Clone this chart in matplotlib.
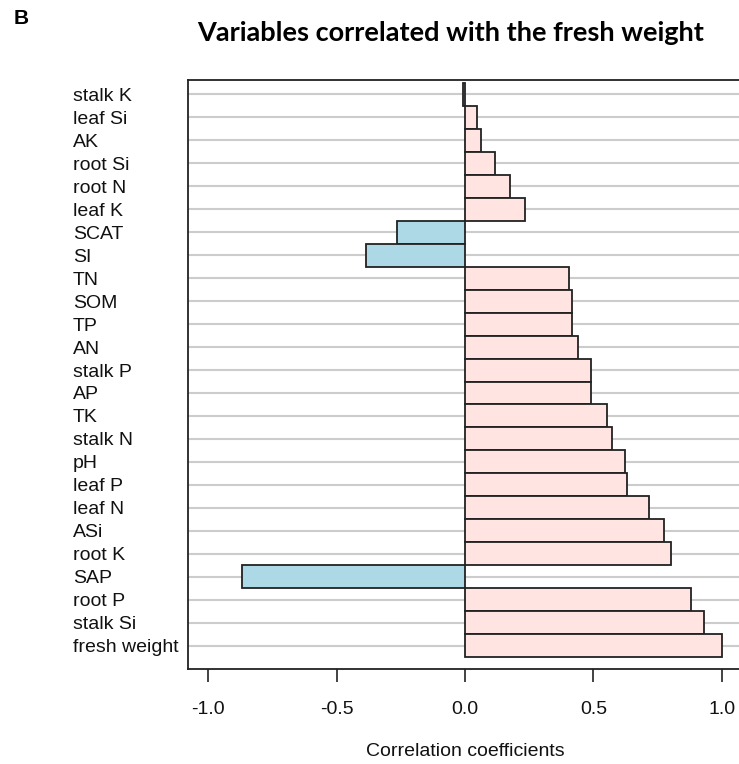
import matplotlib.pyplot as plt
import numpy as np

# variables from top to bottom, as shown in the chart
variables = ["stalk K", "leaf Si", "AK", "root Si", "root N", "leaf K", "SCAT", "SI",
             "TN", "SOM", "TP", "AN", "stalk P", "AP", "TK", "stalk N", "pH",
             "leaf P", "leaf N", "ASi", "root K", "SAP", "root P", "stalk Si",
             "fresh weight"]
coefs = [-0.008, 0.045, 0.061, 0.118, 0.175, 0.235, -0.266, -0.386,
         0.406, 0.417, 0.417, 0.439, 0.489, 0.492, 0.554, 0.572, 0.622,
         0.629, 0.715, 0.775, 0.801, -0.868, 0.881, 0.929, 1.0]
xticks = [-1.0, -0.5, 0.0, 0.5, 1.0]

W, H = 739, 764
fig = plt.figure(figsize=(W / 100, H / 100), dpi=100)

# axes box in pixels (the right edge runs off the picture)
left, right, top, bottom = 187.5, 742.5, 80, 669
ax = fig.add_axes([left / W, (H - bottom) / H, (right - left) / W, (bottom - top) / H])

n = len(variables)
ypos = np.arange(n)[::-1]
colors = ["#ffe4e1" if v >= 0 else "#add8e6" for v in coefs]

ax.hlines(ypos, -1.08, 1.08, color="#cccccc", lw=1.5, zorder=1)
ax.barh(ypos, coefs, height=1.0, color=colors, edgecolor="#222222", linewidth=1.3, zorder=2)

ax.set_xlim(-1.08, 1.08)
ax.set_ylim(-1.02, n - 0.5 + 0.13)

ax.set_yticks(ypos)
ax.set_yticklabels(variables, fontsize=14, family="Liberation Sans", color="#111111")
for lab in ax.get_yticklabels():
    lab.set_horizontalalignment("left")
ax.tick_params(axis="y", length=0, pad=(left - 73) * 0.72)

ax.set_xticks(xticks)
ax.set_xticklabels([f"{t:.1f}" for t in xticks], fontsize=14, family="Liberation Sans",
                   color="#111111")
ax.tick_params(axis="x", length=9, width=1.2, pad=14, color="#222222")
ax.set_xlabel("Correlation coefficients", fontsize=14, family="Liberation Sans",
              color="#111111", labelpad=18)

for s in ax.spines.values():
    s.set_linewidth(1.3)
    s.set_color("#222222")

fig.text(451 / W, 1 - 33 / H, "Variables correlated with the fresh weight",
         fontsize=19.5, fontweight="bold", family="Lato", ha="center", va="center")
fig.text(21 / W, 1 - 19 / H, "B", fontsize=15, fontweight="bold",
         family="Liberation Sans", ha="center", va="center")

fig.savefig("out.png", dpi=100)
